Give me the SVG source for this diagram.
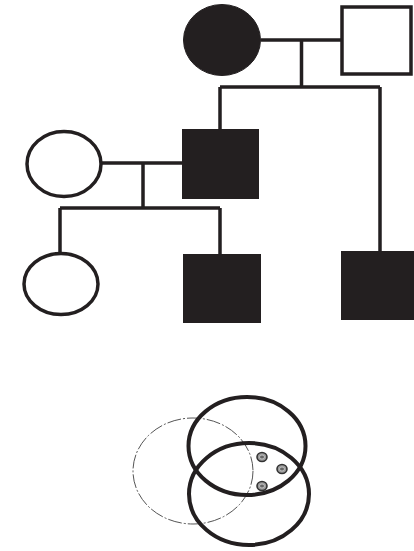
<svg xmlns="http://www.w3.org/2000/svg" width="414" height="551" viewBox="0 0 414 551">
<style>
.ln{stroke:#231f20;stroke-width:3.5;fill:none}
.open{fill:#fff;stroke:#231f20;stroke-width:3.5}
.aff{fill:#231f20;stroke:#231f20;stroke-width:1}
.thick{fill:none;stroke:#231f20;stroke-width:4}
.thin{fill:none;stroke:#555;stroke-width:1;stroke-dasharray:14 2 2 2}
.dot{fill:#999;stroke:#333;stroke-width:1.6}
.dotc{fill:#666;stroke:#ccc;stroke-width:0.8}
</style>
<rect width="414" height="551" fill="#fff"/>
<g id="connectors">
<path class="ln" d="M261 40H341M301.5 40V87M220 87H380M220 87V130M380 87V251"/>
<path class="ln" d="M102 163H183M143 163V208M60 208H220M60 208V253M220 208V255"/>
</g>
<g id="grandmother"><ellipse class="aff" cx="222" cy="40" rx="38.5" ry="35.5"/></g>
<g id="grandfather"><rect class="open" x="342" y="7" width="69" height="67"/></g>
<g id="mother"><ellipse class="open" cx="64" cy="164" rx="37" ry="32.5"/></g>
<g id="father"><rect class="aff" x="182.5" y="129.5" width="76" height="69"/></g>
<g id="uncle"><rect class="aff" x="341.5" y="251.5" width="73" height="68"/></g>
<g id="daughter"><ellipse class="open" cx="61" cy="284" rx="37" ry="30.5"/></g>
<g id="son"><rect class="aff" x="183.5" y="254.5" width="77" height="68"/></g>
<g id="venn">
<ellipse class="thin" cx="193" cy="471" rx="60" ry="53"/>
<ellipse class="thick" cx="247" cy="446" rx="58.5" ry="49"/>
<ellipse class="thick" cx="249" cy="494" rx="60" ry="51"/>
<ellipse class="dot" cx="262" cy="457" rx="5" ry="4.5"/>
<ellipse class="dotc" cx="262" cy="457" rx="2.5" ry="2"/>
<ellipse class="dot" cx="282" cy="469" rx="5" ry="4.5"/>
<ellipse class="dotc" cx="282" cy="469" rx="2.5" ry="2"/>
<ellipse class="dot" cx="262" cy="486" rx="5" ry="4.5"/>
<ellipse class="dotc" cx="262" cy="486" rx="2.5" ry="2"/>
</g>
</svg>
